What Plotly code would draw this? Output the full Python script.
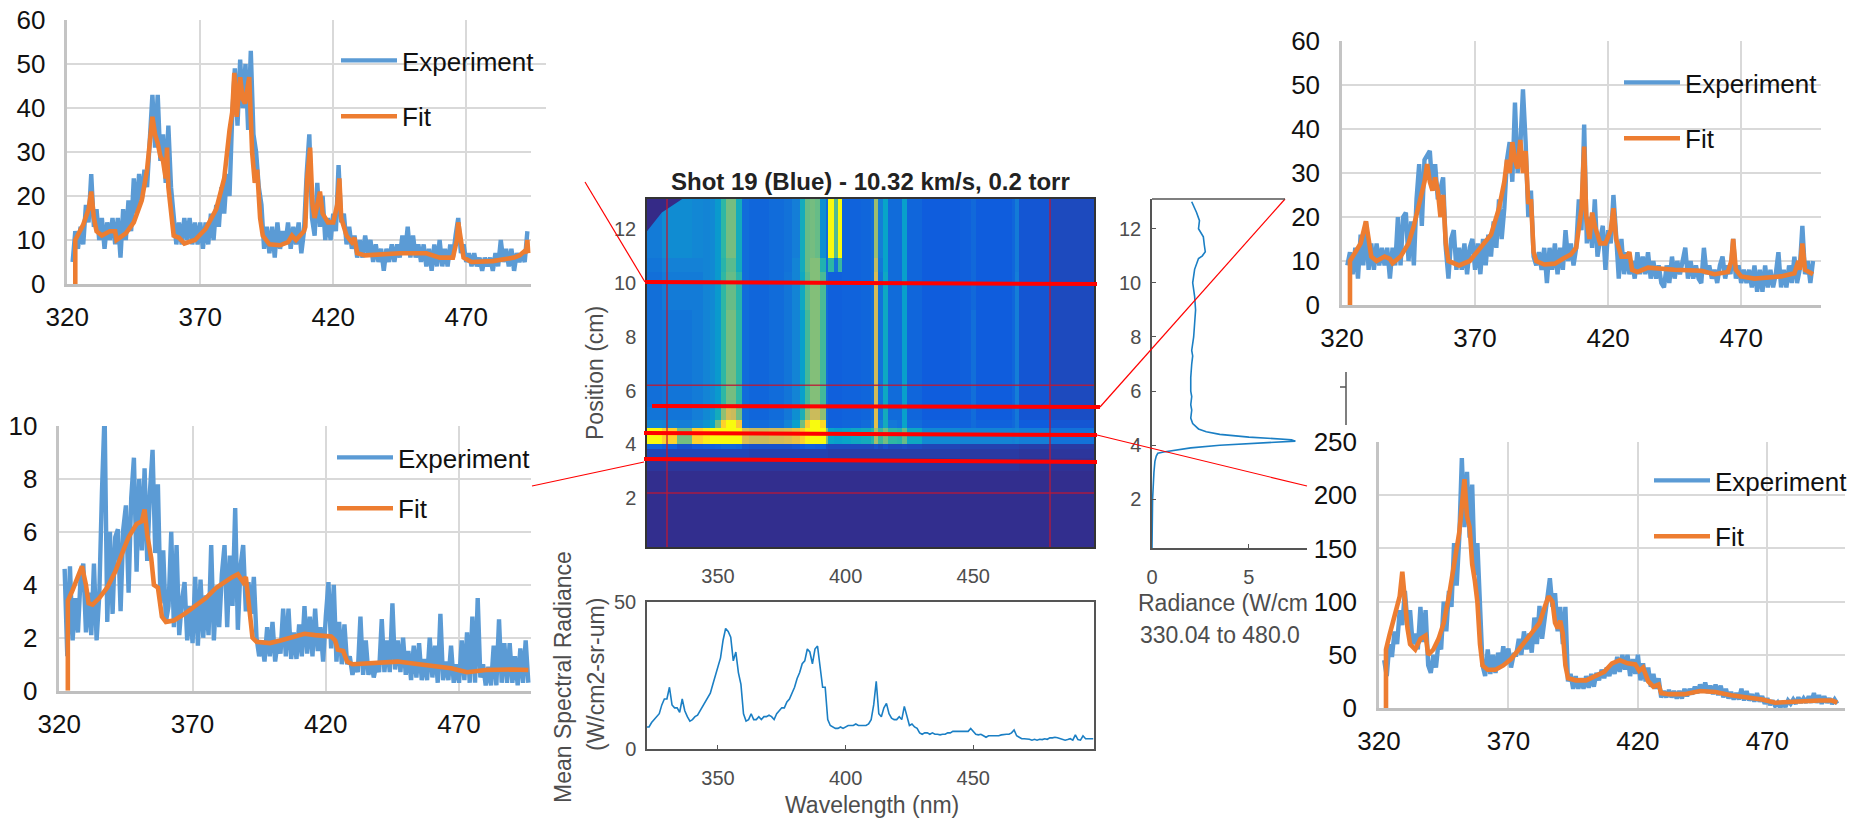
import plotly.graph_objects as go

# ---------- values ----------
tick_wl = [320, 370, 420, 470]
tick_y_a = [0, 10, 20, 30, 40, 50, 60]
tick_y_c = [0, 2, 4, 6, 8, 10]
tick_y_d = [0, 50, 100, 150, 200, 250]

tl_start = 322
tl_exp = [5,12,8,13,9,18,14,25,13,17,10,15,8,14,10,15,9,15,6,17,10,19,12,24,16,25,19,26,22,34,43,31,43,28,34,23,36,22,14,9,14,9,15,10,15,9,14,9,14,8,14,9,16,10,18,13,22,16,25,20,38,49,36,51,40,50,35,53,34,30,22,18,8,13,7,13,6,14,8,12,9,14,8,13,9,14,7,12,25,34,15,11,23,13,20,10,15,10,16,12,27,14,16,9,13,8,11,6,10,6,11,7,10,5,9,5,8,3,8,5,9,5,9,6,11,7,13,6,11,6,9,5,9,4,8,3,9,4,10,4,8,4,9,6,11,15,7,9,5,7,4,7,4,6,3,6,4,6,3,7,4,10,5,8,4,8,3,7,5,7,5,12]
tl_fit_x = [323,323,326,328,329,330,331,333,336,338,338.5,342,345,348,350,352,353,354,355,356,357,357.5,358,359,360,362,363,364,368,372,376,379,381,382,382.8,383.7,385,386,386.8,388.4,389.5,390.5,391.4,392.5,393.5,396,400,403,404.5,406,409,409.5,410.2,411.3,412.2,413,414,415,416,418,420,421.5,422.3,423,425,427,428,429,432,445,455,460,465,466.5,467,468,469,472,480,488,490,492,492.5,493,493.3]
tl_fit_y = [0,10,13.5,17,21,15,12,11,12,12,10,11.5,14,19,26,38,34,32,29,28,24,31,22,16,11,10.5,10,9.2,10,12.5,17,24,35,39,48,38,47,42,41,47,30,23,26,15,11,9,8.8,9.5,11,10,12,13,24,31,18,15,18,21,16,14,14,18,24,15,11,9.5,10.5,7,6.5,7,7,6,6,10,14,9,6,5,5.2,6,6.5,7.5,7,10,7]

bl_start = 322
bl_exp = [4.6,1.3,4.7,1.9,3.5,2.2,4.3,4.8,2.2,3.7,2.1,4.8,1.9,3.6,7.5,10.5,2.6,6,2.9,5.8,6.1,3,6.1,7,3.7,7.3,8.8,4.5,8,5.3,8.4,4.9,7.5,9.1,5.2,7.8,3.3,5.3,2.6,3.2,6,2.4,5.5,2.1,3.4,4.1,1.9,3.2,1.8,4.3,1.7,4.2,2,3.6,2.1,5.5,1.9,3.9,2.4,4.4,5.5,2.4,5.1,3.2,6.9,2.3,4.7,5.5,3,4.1,2.9,4.3,2,1.3,1.9,1.1,2.4,1.3,2.6,1.1,1.9,1.4,3.1,1.3,3.1,1.2,2.2,1.2,2.5,1.3,3.2,1.4,2.8,1.3,3.1,1.5,2.4,1.1,2.8,4.1,1.6,4,1.1,2.6,1,2.5,1,1.3,0.6,1,0.7,2.8,0.6,1.9,0.6,1.1,0.5,1,0.7,2.7,0.7,1.9,0.7,3.3,0.8,1.9,0.7,2,0.6,1.5,0.4,1.7,0.5,1.8,0.4,1.2,0.4,2,0.5,1.7,0.3,2.9,0.4,1.1,0.4,1.7,0.3,1,0.3,1.9,0.4,2.2,0.3,2.8,0.3,3.5,0.5,1,0.2,0.9,0.2,1.7,0.2,2.7,0.3,1.8,0.3,1.8,0.3,1.3,0.2,1.6,0.3,1.9,0.3]
bl_fit_x = [323.2,323.2,325,327,328.5,330,331,332.5,335,338,341,344,346,349,351,352,353,354.5,355.5,357,358.5,360,363,367,371,375,379,383,385,387,389,390,391.5,392.5,394,399,403,408,412,416,420,422,423.5,424.5,426.5,428,430,440,447,455,462,467,473,480,490,496]
bl_fit_y = [0,3.4,3.8,4.3,4.7,4,3.3,3.25,3.5,3.9,4.5,5.3,5.8,6.3,6.4,6.85,5.9,5,4,3.9,2.8,2.6,2.65,2.9,3.2,3.5,3.9,4.2,4.3,4.4,4.1,4.3,3,2,1.85,1.8,1.9,2.05,2.15,2.1,2.05,2.05,1.9,1.55,1.5,1.1,1,1.05,1.1,1,0.9,0.85,0.7,0.78,0.8,0.78]

tr_start = 322
tr_exp = [9,12,7,13,6,16,9,19,8,14,8,14,9,13,9,13,6,13,9,20,9,20,21,10,19,9,24,32,18,33,34,35,26,32,24,27,29,13,6,15,17,8,13,8,14,7,13,15,8,14,7,15,9,16,11,19,13,24,15,22,33,37,28,46,30,36,49,37,20,26,11,9,12,8,13,5,13,8,14,7,13,8,17,10,14,9,13,24,17,41,14,20,13,24,11,15,18,8,17,14,25,16,6,15,7,12,7,10,6,12,7,11,7,12,6,10,6,9,5,4,9,5,11,6,10,7,10,13,6,10,6,9,6,5,13,7,9,6,8,5,9,11,6,9,7,15,6,9,5,8,5,8,4,9,3,8,3,9,4,8,4,7,12,4,8,4,9,5,11,5,8,18,7,10,5,10]
tr_fit_x = [323,323,325,327,329,330,331,333,336,338,339,342,345,347,349,351,352,353,354,355,356,357,358,359,360,362,364,368,372,376,379,381,382,383,384,385,386,387,388,389,390,391,392,393,396,400,403,406,408,409.3,410,411,411.8,413,414,415,417,419,421,422,423,425,427,428,429,431,435,445,455,460,465,466.3,467,468,470,475,485,490,491.5,492,493,494,497]
tr_fit_y = [0,10,12,14,19,15,11,10,11,10.5,9.5,11,14,18,23,28,32,28,26,29,26,20,25,14,10,9.5,9,10,13,16,22,28,33,30,37,33,31,37.5,30,35,23,24,12,10,9.2,9.4,10.5,11.5,13,20,22,36,20,15,21,18,14,14,17,22,15,11,11,12,8,7.5,8.5,8,7.8,7,7.5,10,15,8,6.5,6,6.5,7.2,10,8,14,8,7]

br_start = 322
br_exp = [45,30,60,48,72,60,92,78,110,80,92,60,70,55,95,62,92,40,33,50,38,62,55,100,72,110,95,155,115,160,235,170,222,160,210,125,155,100,40,30,55,32,50,33,52,38,58,42,56,38,50,50,65,50,72,55,70,52,85,60,96,65,85,100,122,95,108,72,95,60,95,25,32,18,30,18,28,18,30,19,32,20,33,26,36,28,38,30,42,32,48,34,50,36,50,30,46,32,50,26,42,25,38,20,32,18,28,10,16,10,17,10,16,9,16,9,18,11,18,13,20,14,22,15,24,14,21,13,22,12,21,10,18,9,15,8,14,8,18,7,16,7,13,6,14,6,11,4,9,3,7,2,5,0,6,1,7,4,8,4,10,5,9,5,11,5,14,5,12,4,11,5,9,4,8,4]
br_fit_x = [322.7,322.7,324,326,328,329,330,331,332,334,336,338,339,341,343,345,347,349,351,353,354,355,356,357,358,359,360,362,365,368,371,374,377,380,382,384,385.5,387,388,389,390,391,392,393,396,400,404,407,410,413,416,419,420.5,422,424,426,428,429,432,438,444,450,456,462,468,473,480,490,495,497]
br_fit_y = [0,55,68,85,105,128,95,75,60,55,65,68,50,55,65,80,105,135,165,215,180,170,135,120,100,60,40,36,36,40,46,55,65,75,80,95,105,100,80,75,82,70,40,28,26,26,30,34,42,45,42,41,35,38,25,20,22,14,13,13,16,15,12,10,8,5,6,7,7,5]

mean_start = 322
mean_rad = [7.5,7.5,9,10,11,12,15,17,17,21,15,14,14,12.5,17,13,11,9.5,10,11,11.5,13,14,16,17,19,22,25,28,31,37,41,40,38,30,33,26,22,12,9.5,10,12,10,10,11,10,11,11,11.5,11,10,12,13,14,14,16,17,19,21,24,26,29,30,34,33,29,34,35,27,21,21,10,8,7.5,7,7,7.5,7,7.5,8,8,8,8.5,8,8,8,8,8.5,10,15,23,12,11,14,15.5,12,10.5,10,10,11,10,14.5,11,8,8.5,7.5,7,5.5,5,5.5,5.5,5,5.5,5,5,4.8,5,5,5.5,5.5,6,6,6,6,6,6,6,7,6,5,4.8,5,4.5,4,4.5,4.5,4.3,4.5,4.5,4.8,5,5,5,5.5,6.5,4.5,4,3.5,3.5,3.5,3.3,3,3.3,3,3.3,3.2,3.5,3.3,3.8,3.8,4,3.8,3.5,3.2,3,3.2,3.5,3,4.8,3.2,3,4.5,3.5,3.5,3.5,3.5]

prof_pos = [0.2,2,3,3.4,3.6,3.7,3.75,3.8,3.9,4.0,4.05,4.1,4.15,4.2,4.25,4.3,4.4,4.5,4.6,4.8,5,5.3,5.5,5.8,6,6.5,7,7.3,7.5,8,8.5,9,9.5,10,10.5,10.9,11,11.15,11.4,11.7,12,12.3,12.6,13]
prof_rad = [0,0.03,0.1,0.15,0.22,0.3,0.6,1.0,2.0,3.5,5,6.2,7.4,7.2,6,5,3.5,2.8,2.4,2.1,2.0,2.05,2.0,2.05,2.0,2.0,2.05,2.1,2.05,2.15,2.2,2.25,2.2,2.1,2.2,2.4,2.6,2.75,2.7,2.65,2.4,2.45,2.3,2.05]

map_wl_edges = [322.2,328,334,340,344,347,349,351,353,355,357,359.5,362,370,376,379,382,384,386,388,390,392.5,393,395.5,397,398.7,402,406,410,411,412.5,414.5,416.5,420,422,424,430,445,449,451,465,466.5,468,480,497.3]
map_pos_edges = [0.2,3.0,3.5,3.85,4.03,4.6,4.9,5.4,9.0,10.4,10.9,13.1]
map_r0 = [.01,.01,.01,.01,.01,.01,.01,.01,.01,.01,.01,.01,.01,.01,.01,.01,.01,.01,.01,.01,.01,.01,.01,.01,.01,.01,.01,.01,.01,.01,.01,.01,.01,.01,.01,.01,.01,.01,.01,.01,.01,.01,.01,.01]
map_r1 = [.03,.03,.03,.03,.03,.03,.03,.03,.03,.03,.03,.03,.03,.03,.03,.03,.03,.03,.03,.03,.03,.03,.03,.03,.03,.03,.03,.03,.03,.03,.03,.03,.03,.03,.03,.03,.03,.03,.03,.03,.03,.03,.02,.02]
map_r2 = [.07,.07,.07,.07,.07,.07,.07,.07,.07,.07,.07,.07,.06,.06,.06,.06,.06,.06,.06,.06,.06,.06,.05,.05,.05,.05,.05,.05,.05,.05,.05,.05,.05,.05,.05,.05,.05,.04,.04,.04,.04,.04,.03,.03]
map_r3 = [.16,.14,.10,.12,.13,.14,.15,.17,.17,.17,.16,.11,.10,.10,.10,.11,.13,.15,.15,.14,.14,.09,.08,.08,.08,.08,.08,.08,.08,.10,.08,.10,.08,.08,.09,.08,.07,.06,.06,.06,.06,.06,.05,.04]
map_r4 = [1.0,.90,.60,.90,.96,1.0,1.0,1.0,1.0,1.0,1.0,.78,.74,.76,.78,.82,.90,.98,1.0,1.0,1.0,.62,.38,.36,.36,.38,.40,.42,.48,.68,.52,.60,.50,.48,.58,.40,.28,.26,.26,.26,.25,.27,.24,.20]
map_r5 = [.26,.25,.24,.28,.32,.38,.60,.90,1.0,1.0,.86,.20,.18,.20,.26,.36,.60,.88,1.0,1.0,.92,.20,.15,.15,.15,.16,.16,.18,.22,.80,.24,.42,.22,.20,.38,.18,.15,.15,.18,.15,.17,.22,.13,.11]
map_r6 = [.21,.21,.21,.24,.28,.32,.42,.64,.76,.74,.60,.18,.16,.18,.22,.30,.44,.64,.74,.74,.64,.18,.14,.14,.14,.15,.15,.16,.18,.78,.20,.42,.18,.18,.36,.16,.13,.14,.18,.13,.16,.22,.11,.09]
map_r7 = [.19,.21,.21,.23,.26,.29,.34,.50,.60,.60,.50,.18,.16,.18,.21,.26,.36,.53,.62,.62,.53,.18,.14,.14,.14,.15,.15,.16,.18,.75,.20,.40,.18,.18,.36,.16,.13,.14,.19,.13,.16,.24,.11,.08]
map_r8 = [.19,.23,.23,.23,.26,.28,.34,.50,.58,.58,.48,.18,.16,.18,.21,.26,.40,.56,.62,.62,.54,.18,.14,.14,.14,.15,.15,.16,.18,.76,.20,.40,.18,.18,.36,.16,.13,.14,.17,.13,.16,.24,.11,.08]
map_r9 = [.21,.25,.25,.25,.26,.28,.34,.48,.56,.56,.42,.18,.16,.18,.20,.26,.42,.58,.62,.62,.46,.18,.50,.20,.52,.15,.15,.16,.18,.72,.22,.38,.18,.18,.36,.16,.13,.14,.17,.13,.16,.23,.11,.08]
map_r10 = [.23,.29,.29,.27,.26,.28,.34,.50,.60,.60,.42,.18,.16,.18,.20,.24,.42,.58,.60,.58,.30,.18,1.0,.55,1.0,.15,.15,.16,.18,.66,.24,.38,.18,.18,.36,.16,.13,.14,.17,.13,.16,.23,.11,.08]

parula = [[0,"#352a87"],[.125,"#0f5cdd"],[.25,"#1481d6"],[.375,"#06a4ca"],[.5,"#2eb7a4"],[.625,"#87bf77"],[.75,"#d1bb59"],[.875,"#fec832"],[1,"#f9fb0e"]]

# ---------- page geometry ----------
W, H = 1864, 819
BLUE, ORANGE = "#5b9bd5", "#ed7d31"
GRAY = "#4d4d4d"
SANS = "Liberation Sans, Arial, sans-serif"

def xd(a, b):
    return [a / W, b / W]

def yd(top, bot):
    return [1 - bot / H, 1 - top / H]

def seq(start, vals):
    return [start + i for i in range(len(vals))]

fig = go.Figure()
layout = dict(
    width=W, height=H, autosize=False, margin=dict(l=0, r=0, t=0, b=0, autoexpand=False),
    paper_bgcolor="white", plot_bgcolor="white", font=dict(family=SANS),
    hovermode=False,
)

charts = [
    ("", 67.3, 546, 20, 284, [320, 500], [0, 60], tick_y_a, tl_start, tl_exp, tl_fit_x, tl_fit_y, "legend", 336, 37, 19),
    ("2", 59.3, 531, 426, 690.7, [320, 497], [0, 10], tick_y_c, bl_start, bl_exp, bl_fit_x, bl_fit_y, "legend2", 332, 434, 14),
    ("3", 1342, 1821, 41, 305, [320, 500], [0, 60], tick_y_a, tr_start, tr_exp, tr_fit_x, tr_fit_y, "legend3", 1619, 59, 19),
    ("4", 1379, 1845, 442, 708, [320, 500], [0, 250], tick_y_d, br_start, br_exp, br_fit_x, br_fit_y, "legend4", 1649, 457, 19),
]
for sfx, x0, x1, top, bot, xr, yr, yt, st, ex, fx, fy, leg, lx, ly, gap in charts:
    xa, ya = "x" + sfx, "y" + sfx
    fig.add_trace(go.Scatter(x=seq(st, ex), y=ex, mode="lines", name="Experiment", xaxis=xa, yaxis=ya,
                             line=dict(color=BLUE, width=4.4), legend=leg, legendgroup=leg + "a"))
    fig.add_trace(go.Scatter(x=fx, y=fy, mode="lines", name="Fit", xaxis=xa, yaxis=ya,
                             line=dict(color=ORANGE, width=4.6), legend=leg, legendgroup=leg + "b"))
    layout["xaxis" + sfx] = dict(domain=xd(x0, x1), anchor=ya, range=xr, tickvals=tick_wl, showgrid=True,
                                 gridcolor="#d9d9d9", gridwidth=2, showline=True, linecolor="#bfbfbf", linewidth=3,
                                 zeroline=False, ticks="", ticklabelstandoff=8,
                                 tickfont=dict(size=26, color="#111111", family=SANS))
    layout["yaxis" + sfx] = dict(domain=yd(top, bot), anchor=xa, range=yr, tickvals=yt, showgrid=True,
                                 gridcolor="#d9d9d9", gridwidth=2, showline=True, linecolor="#c4c4c4", linewidth=2.5,
                                 zeroline=False, ticks="", ticklabelstandoff=14,
                                 tickfont=dict(size=26, color="#111111", family=SANS))
    layout[leg] = dict(x=lx / W, y=1 - ly / H, xanchor="left", yanchor="top",
                       bgcolor="rgba(0,0,0,0)", font=dict(size=26, color="#111111", family=SANS),
                       itemwidth=56, tracegroupgap=gap, itemclick=False, itemdoubleclick=False)

# shot image
map_rows = [map_r0, map_r1, map_r2, map_r3, map_r4, map_r5, map_r6, map_r7, map_r8, map_r9, map_r10]
fig.add_trace(go.Heatmap(x=map_wl_edges, y=map_pos_edges, z=map_rows, colorscale=parula, zmin=0, zmax=1,
                         showscale=False, xaxis="x5", yaxis="y5", hoverinfo="skip"))
matlab_tick = dict(size=20, color=GRAY, family=SANS)
pos_ticks = [2, 4, 6, 8, 10, 12]
layout["xaxis5"] = dict(domain=xd(647, 1094), anchor="y5", range=[322.2, 497.3], tickvals=[350, 400, 450],
                        showgrid=False, zeroline=False, showline=True, linecolor="#333333", linewidth=1.5, mirror=True,
                        ticks="", ticklabelstandoff=10, tickfont=matlab_tick)
layout["yaxis5"] = dict(domain=yd(199, 547), anchor="x5", range=[0.2, 13.1], tickvals=pos_ticks,
                        showgrid=False, zeroline=False, showline=True, linecolor="#333333", linewidth=1.5, mirror=True,
                        ticks="", ticklabelstandoff=5, tickfont=matlab_tick)

# mean spectrum
fig.add_trace(go.Scatter(x=seq(mean_start, mean_rad), y=mean_rad, mode="lines", showlegend=False,
                         line=dict(color="#1b7fc4", width=1.6), xaxis="x6", yaxis="y6"))
layout["xaxis6"] = dict(domain=xd(647, 1094), anchor="y6", range=[322.2, 497.3], tickvals=[350, 400, 450],
                        showgrid=False, zeroline=False, showline=True, linecolor="#555555", linewidth=1.5, mirror=True,
                        ticks="inside", ticklen=4, tickcolor="#555555", ticklabelstandoff=10, tickfont=matlab_tick)
layout["yaxis6"] = dict(domain=yd(602, 749), anchor="x6", range=[0, 50], tickvals=[0, 50],
                        showgrid=False, zeroline=False, showline=True, linecolor="#555555", linewidth=1.5, mirror=True,
                        ticks="", ticklabelstandoff=5, tickfont=matlab_tick)

# radiance profile
fig.add_trace(go.Scatter(x=prof_rad, y=prof_pos, mode="lines", showlegend=False,
                         line=dict(color="#1b7fc4", width=1.6), xaxis="x7", yaxis="y7"))
layout["xaxis7"] = dict(domain=xd(1152, 1307), anchor="y7", range=[0, 8], tickvals=[0, 5],
                        showgrid=False, zeroline=False, showline=True, linecolor="#555555", linewidth=1.5,
                        ticks="inside", ticklen=4, tickcolor="#555555", ticklabelstandoff=10, tickfont=matlab_tick)
layout["yaxis7"] = dict(domain=yd(199, 548), anchor="x7", range=[0.2, 13.1], tickvals=pos_ticks,
                        showgrid=False, zeroline=False, showline=True, linecolor="#555555", linewidth=1.5,
                        ticks="inside", ticklen=4, tickcolor="#555555", ticklabelstandoff=5, tickfont=matlab_tick)

# ---------- overlays ----------
def seg(x0, y0, x1, y1, color, width):
    return dict(type="line", xref="paper", yref="paper", x0=x0 / W, y0=1 - y0 / H, x1=x1 / W, y1=1 - y1 / H,
                line=dict(color=color, width=width))

RED, DARKRED = "#ff0000", "rgba(190,25,50,0.85)"
shapes = [
    dict(type="rect", xref="paper", yref="paper", x0=531 / W, x1=560 / W, y0=1 - 305 / H, y1=1 - 130 / H,
         fillcolor="white", line=dict(width=0)),
    dict(type="path", xref="x5", yref="y5", path="M 322.2 13.1 L 336 13.1 L 328 12.6 L 322.2 11.9 Z",
         fillcolor="#352a87", line=dict(width=0)),
    dict(type="line", xref="x5", yref="y5", x0=330.04, x1=330.04, y0=0.2, y1=13.1, line=dict(color=DARKRED, width=1.5)),
    dict(type="line", xref="x5", yref="y5", x0=480.07, x1=480.07, y0=0.2, y1=13.1, line=dict(color=DARKRED, width=1.5)),
    dict(type="line", xref="x5", yref="y5", x0=322.2, x1=497.3, y0=6.2, y1=6.2, line=dict(color=DARKRED, width=1.5)),
    dict(type="line", xref="x5", yref="y5", x0=322.2, x1=497.3, y0=2.2, y1=2.2, line=dict(color=DARKRED, width=1.5)),
    seg(645, 282, 1097, 284, RED, 4),
    seg(652, 406, 1100, 407, RED, 4),
    seg(644, 433, 1097, 435, RED, 4),
    seg(644, 459, 1097, 462, RED, 4),
    seg(585, 182, 645, 282, RED, 1.2),
    seg(532, 486, 644, 462, RED, 1.2),
    seg(1100, 407, 1285, 199, RED, 1.2),
    seg(1097, 435, 1307, 486, RED, 1.2),
    seg(1152, 199, 1285, 199, "#555555", 1.5),
    seg(1346, 372, 1346, 425, "#555555", 1.5),
    seg(1340, 387, 1346, 387, "#555555", 1.5),
]
layout["shapes"] = shapes

def note(text, x, y, size, color=GRAY, angle=0, anchor="center", bold=False):
    return dict(text=f"<b>{text}</b>" if bold else text, x=x / W, y=1 - y / H, xref="paper", yref="paper",
                showarrow=False, xanchor=anchor, yanchor="middle", textangle=angle,
                font=dict(size=size, color=color, family=SANS))

layout["annotations"] = [
    note("Shot 19 (Blue) - 10.32 km/s, 0.2 torr", 870, 181, 24, "#222222", bold=True),
    note("Position (cm)", 595, 373, 23, angle=-90),
    note("Mean Spectral Radiance", 563, 677, 23, angle=-90),
    note("(W/cm2-sr-um)", 596, 675, 23, angle=-90),
    note("Wavelength (nm)", 872, 805, 23),
    note("Radiance (W/cm", 1136, 603, 23, anchor="left"),
    note("330.04 to 480.0", 1138, 635, 23, anchor="left"),
]

fig.update_layout(**layout)
fig.write_html("out.html", config={"displayModeBar": False},
               post_script="document.body.style.margin='0';document.body.style.overflow='hidden';")
